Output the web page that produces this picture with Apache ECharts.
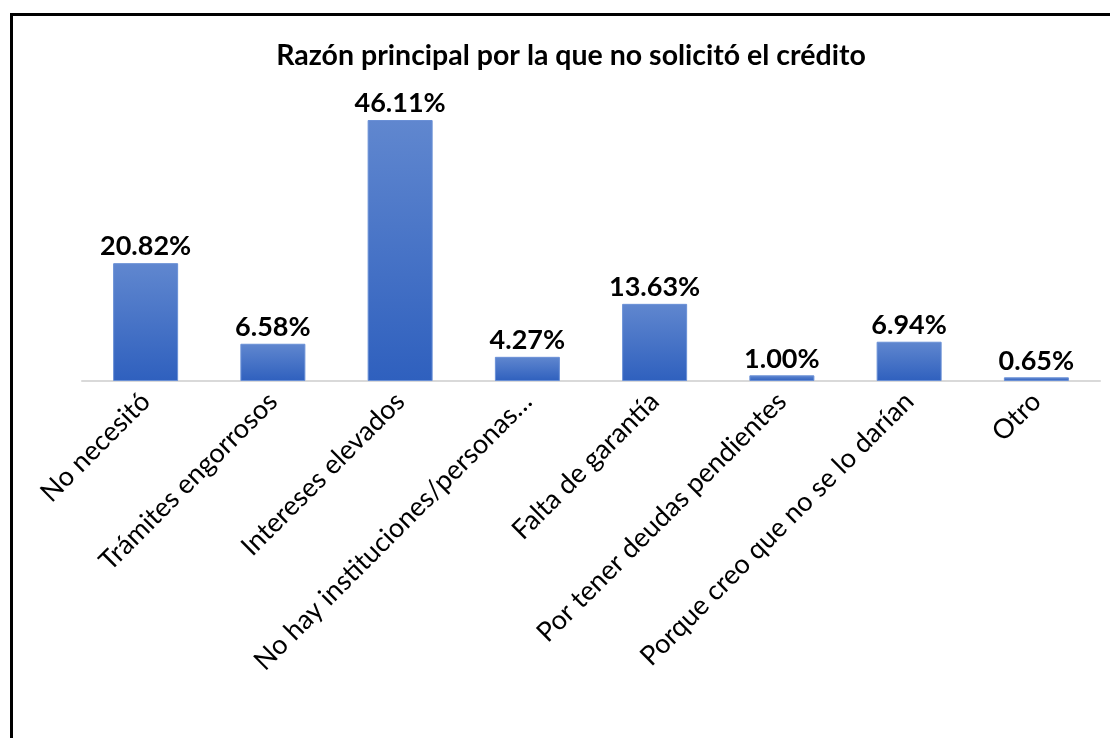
<!DOCTYPE html>
<html><head><meta charset="utf-8">
<script src="https://cdn.jsdelivr.net/npm/echarts@6/dist/echarts.min.js"></script>
<style>
html,body{margin:0;padding:0;background:#fff;width:1110px;height:738px;overflow:hidden}
#frame{position:absolute;left:10px;top:13px;width:1200px;height:800px;border:3px solid #000;box-sizing:border-box}
#c{position:absolute;left:0;top:0;width:1110px;height:738px}
</style></head>
<body><div id="frame"></div><div id="c"></div>
<script>
const titleText = 'Razón principal por la que no solicitó el crédito';
const categories = ['No necesitó','Trámites engorrosos','Intereses elevados','No hay instituciones/personas…','Falta de garantía','Por tener deudas pendientes','Porque creo que no se lo darían','Otro'];
const values = [20.82, 6.58, 46.11, 4.27, 13.63, 1.00, 6.94, 0.65];

const chart = echarts.init(document.getElementById('c'));
chart.setOption({
  animation:false,
  backgroundColor:'transparent',
  title:{text:titleText,left:566,textAlign:'center',top:36,textStyle:{fontFamily:'Lato',fontWeight:'bold',fontSize:28.5,color:'#000'}},
  grid:{left:82,right:10,top:98,bottom:357,containLabel:false},
  xAxis:{type:'category',data:categories,
    axisLine:{lineStyle:{color:'#d9d9d9',width:2}},axisTick:{show:false},
    axisLabel:{rotate:45,interval:0,margin:16,fontFamily:'Lato',fontSize:27,color:'#000'}},
  yAxis:{type:'value',min:0,max:50,show:false,splitLine:{show:false}},
  series:[{type:'bar',data:values,barWidth:65,
    itemStyle:{color:new echarts.graphic.LinearGradient(0,0,0,1,[{offset:0,color:'#6087cf'},{offset:1,color:'#2f60be'}]),borderColor:'#6a90d6',borderWidth:1},
    label:{show:true,position:'top',distance:3,formatter:p=>p.value.toFixed(2)+'%',fontFamily:'Lato',fontWeight:'bold',fontSize:27,color:'#000'}}]
});
</script></body></html>
